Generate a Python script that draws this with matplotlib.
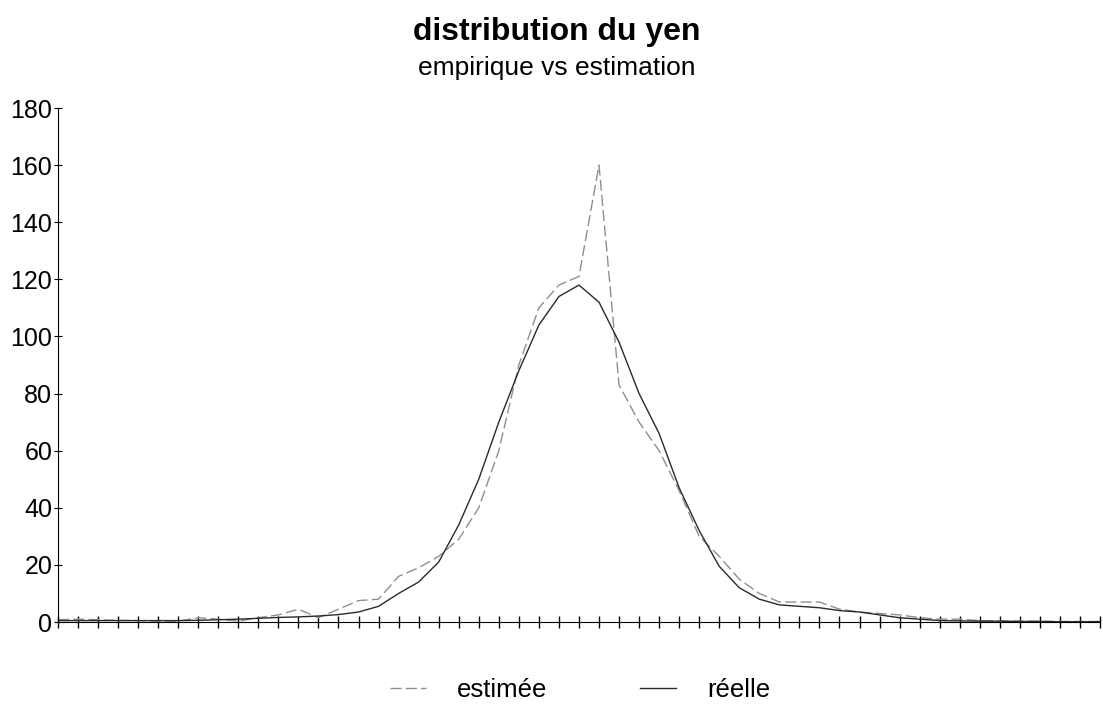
# distribution du yen : empirique vs estimation

import matplotlib
matplotlib.use('Agg')
import matplotlib.pyplot as plt

plt.rcParams['font.family'] = ['Liberation Sans', 'DejaVu Sans']

# one value per class (53 classes)
classes = list(range(53))

estimee = [0.8, 1.0, 0.8, 0.6, 0.5, 0.3, 0.3, 1.5, 1.0, 0.3,
           1.5, 2.5, 4.5, 1.5, 4.5, 7.5, 8.0, 16, 19, 23,
           29, 40, 60, 90, 110, 118, 121, 160, 83, 70,
           60, 46, 30, 23, 15, 10, 7, 7, 7, 4.5,
           3.5, 3.0, 2.5, 1.5, 1.0, 1.0, 0.5, 0.4, 0.3, 0.3,
           0.2, 0.2, 0.2]

reelle = [0.5, 0.5, 0.5, 0.5, 0.5, 0.5, 0.5, 0.6, 0.8, 1.0,
          1.3, 1.6, 1.8, 2.1, 2.6, 3.5, 5.5, 10, 14, 21,
          34, 50, 70, 88, 104, 114, 118, 112, 98, 80,
          66, 47, 32, 19.5, 12, 8, 6, 5.5, 5, 4,
          3.5, 2.5, 1.5, 1.0, 0.5, 0.4, 0.3, 0.3, 0.2, 0.2,
          0.1, 0.1, 0.1]

y_ticks = [0, 20, 40, 60, 80, 100, 120, 140, 160, 180]

fig = plt.figure(figsize=(11.03, 7.13), dpi=100)
ax = fig.add_axes([0.0525, 0.1276, 0.9448, 0.7209])

ax.plot(classes, estimee, color='#8f8f8f', linewidth=1.0, dashes=(8, 3), label='estimée')
ax.plot(classes, reelle, color='#2a2a2a', linewidth=1.0, label='réelle')

ax.set_xlim(0, 52)
ax.set_ylim(0, 180)
ax.set_yticks(y_ticks)
ax.set_xticks(classes)
ax.set_xticklabels([])

ax.spines['top'].set_visible(False)
ax.spines['right'].set_visible(False)
ax.tick_params(axis='x', direction='inout', length=9, width=1)
ax.tick_params(axis='y', direction='inout', length=6, width=0.8, labelsize=18, pad=1)

fig.text(0.505, 0.955, 'distribution du yen', ha='center', va='center',
         fontsize=23, fontweight='bold')
fig.text(0.505, 0.905, 'empirique vs estimation', ha='center', va='center',
         fontsize=19)

fig.legend(loc='center', bbox_to_anchor=(0.526, 0.032), ncol=2, frameon=False,
           fontsize=18.5, handlelength=1.4, handletextpad=1.2, columnspacing=3.6)

plt.savefig('out.png', dpi=100)
